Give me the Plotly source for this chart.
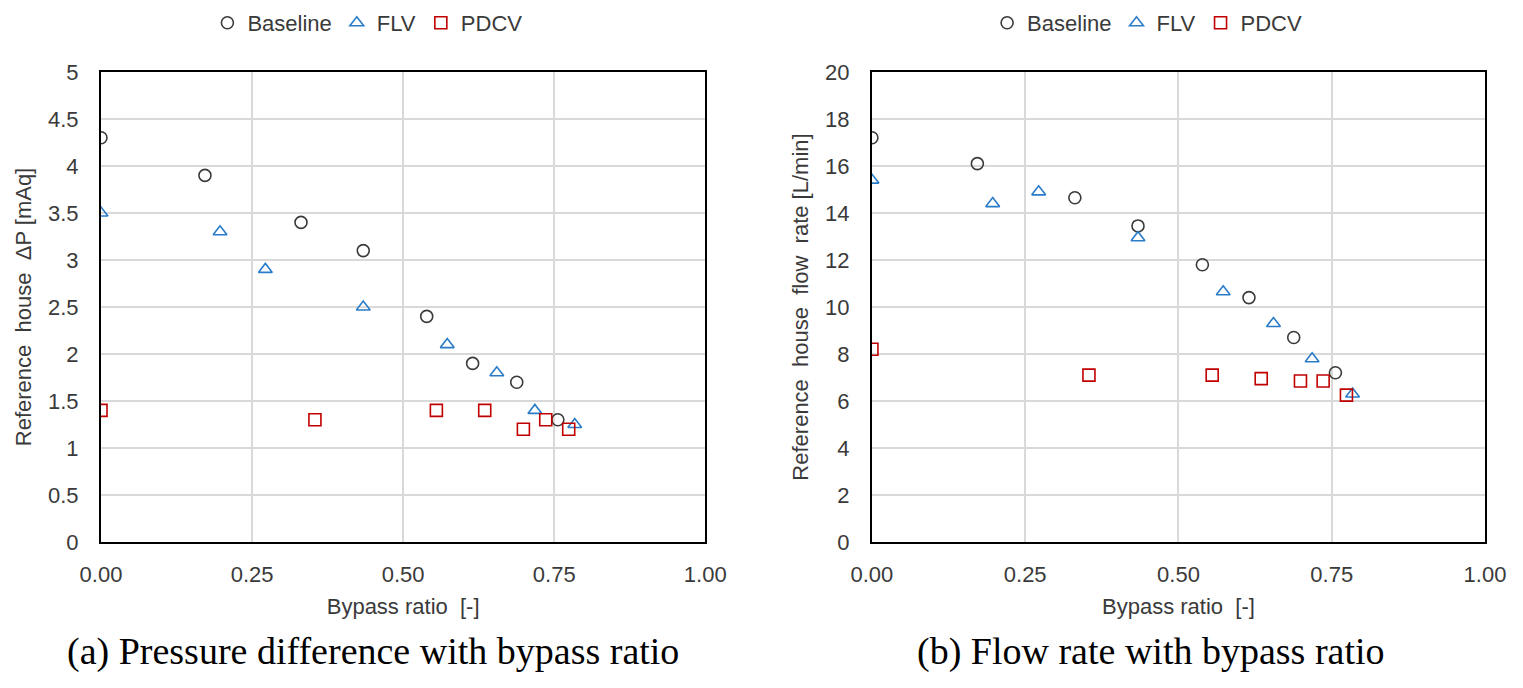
import plotly.graph_objects as go

base_ratio = [0.0, 0.172, 0.331, 0.434, 0.539, 0.615, 0.688, 0.756]
base_dp = [4.3, 3.9, 3.4, 3.1, 2.4, 1.9, 1.7, 1.3]
base_flow = [17.2, 16.1, 14.65, 13.45, 11.8, 10.4, 8.7, 7.2]

flv_ratio = [0.0, 0.197, 0.272, 0.434, 0.573, 0.655, 0.718, 0.784]
flv_dp = [3.5, 3.3, 2.9, 2.5, 2.1, 1.8, 1.4, 1.25]
flv_flow = [15.4, 14.4, 14.9, 12.95, 10.65, 9.3, 7.8, 6.3]

pdcv_ratio = [0.0, 0.354, 0.555, 0.635, 0.699, 0.736, 0.774]
pdcv_dp = [1.4, 1.3, 1.4, 1.4, 1.2, 1.3, 1.2]
pdcv_flow = [8.2, 7.1, 7.1, 6.95, 6.85, 6.85, 6.25]

x_ticks = [0, 0.25, 0.5, 0.75, 1.0]
captions = ['(a) Pressure difference with bypass ratio', '(b) Flow rate with bypass ratio']

W, H = 1523, 688
OFF = 8   # page body margin shifts the figure by this much
L, R, T, B = 100.5 - OFF, W - (1485 - OFF), 72 - OFF, H - (542 - OFF)
PW, PH = W - L - R, H - T - B
txt = '#3a3a3a'
sans = 'Liberation Sans, Arial, sans-serif'
serif = 'Liberation Serif, Times New Roman, serif'

def px_x(p):  # screen pixel -> paper x
    return (p - OFF - L) / PW

def px_y(p):  # screen pixel from top -> paper y
    return (H - B - (p - OFF)) / PH

series = [
    ('Baseline', base_ratio, base_dp, base_flow, 'circle-open', '#3a3a3a', 12),
    ('FLV', flv_ratio, flv_dp, flv_flow, 'triangle-up-open', '#2a7cc9', 12),
    ('PDCV', pdcv_ratio, pdcv_dp, pdcv_flow, 'square-open', '#c00000', 12),
]

fig = go.Figure()
for name, xs, dp, fl, sym, col, sz in series:
    mk = dict(symbol=sym, size=sz, color=col, line=dict(color=col, width=1.6))
    fig.add_trace(go.Scatter(x=xs, y=dp, mode='markers', name=name, marker=mk,
                             xaxis='x', yaxis='y', legend='legend'))
    fig.add_trace(go.Scatter(x=xs, y=fl, mode='markers', name=name, marker=mk,
                             xaxis='x2', yaxis='y2', legend='legend2'))

def xax(dom, anchor):
    return dict(domain=dom, anchor=anchor, range=[0, 1], tickvals=x_ticks, tickformat='.2f',
                showgrid=True, gridcolor='#d9d9d9', gridwidth=1.5, zeroline=False,
                showline=True, linecolor='black', linewidth=2, mirror=True,
                ticks='outside', ticklen=12, tickcolor='rgba(0,0,0,0)',
                tickfont=dict(family=sans, size=22, color=txt),
                title=dict(text='Bypass ratio\u00a0 [-]', font=dict(family=sans, size=22, color=txt),
                           standoff=12))

def yax(dom, anchor, rng, dt, title):
    return dict(domain=dom, anchor=anchor, range=rng, dtick=dt,
                showgrid=True, gridcolor='#d9d9d9', gridwidth=1.5, zeroline=False,
                showline=True, linecolor='black', linewidth=2, mirror=True,
                ticks='outside', ticklen=16, tickcolor='rgba(0,0,0,0)',
                tickfont=dict(family=sans, size=22, color=txt),
                title=dict(text=title, font=dict(family=sans, size=22, color=txt), standoff=10))

leg_y = 1 - (23 - OFF) / H   # container coords, so the legend does not push the margins
fig.update_layout(
    width=W, height=H, plot_bgcolor='white', paper_bgcolor='white',
    margin=dict(l=L, r=R, t=T, b=B),
    xaxis=xax([0, px_x(705)], 'y'),
    yaxis=yax([0, 1], 'x', [0, 5], 0.5, 'Reference\u00a0 house\u00a0 \u0394P [mAq]'),
    xaxis2=xax([px_x(871.7), 1], 'y2'),
    yaxis2=yax([0, 1], 'x2', [0, 20], 2, 'Reference\u00a0 house\u00a0 flow\u00a0 rate [L/min]'),
    legend=dict(orientation='h', x=px_x(367), xanchor='center', y=leg_y, yref='container',
                yanchor='middle', font=dict(family=sans, size=22, color=txt), itemwidth=30,
                bgcolor='rgba(0,0,0,0)'),
    legend2=dict(orientation='h', x=px_x(1147), xanchor='center', y=leg_y, yref='container',
                 yanchor='middle', font=dict(family=sans, size=22, color=txt), itemwidth=30,
                 bgcolor='rgba(0,0,0,0)'),
    annotations=[
        dict(text=captions[0], x=px_x(373), y=px_y(651), xref='paper', yref='paper',
             showarrow=False, xanchor='center', yanchor='middle',
             font=dict(family=serif, size=38, color='black')),
        dict(text=captions[1], x=px_x(1151), y=px_y(651), xref='paper', yref='paper',
             showarrow=False, xanchor='center', yanchor='middle',
             font=dict(family=serif, size=38, color='black')),
    ],
)

fig.write_html('out.html')
